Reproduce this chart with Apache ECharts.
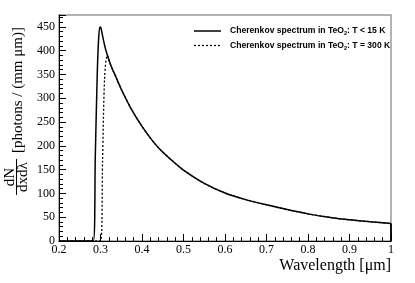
<!DOCTYPE html>
<html>
<head>
<meta charset="utf-8">
<script src="https://cdn.jsdelivr.net/npm/echarts@6/dist/echarts.min.js"></script>
<style>html,body{margin:0;padding:0;background:#fff}#c{width:415px;height:283px}</style>
</head>
<body>
<div id="c"></div>
<script>
// Wavelength [μm] and dN/dxdλ values
const lambdaCold = [0.20, 0.2827, 0.2875, 0.2923, 0.2955, 0.2985, 0.301, 0.305, 0.310, 0.316, 0.325, 0.338, 0.35, 0.375, 0.40, 0.425, 0.443, 0.475, 0.50, 0.55, 0.60, 0.65, 0.70, 0.75, 0.80, 0.85, 0.90, 0.95, 1.00];
const valuesCold = [0, 0, 180, 355, 425, 450, 448, 431, 411, 392, 369, 343, 319, 276, 241, 211, 193, 167, 149, 121, 101, 87, 76, 66, 57, 50, 44.5, 40.5, 37];
const lambdaWarm = [0.20, 0.3003, 0.305, 0.310, 0.3165, 0.325, 0.338, 0.35, 0.375, 0.40, 0.425, 0.443, 0.475, 0.50, 0.55, 0.60, 0.65, 0.70, 0.75, 0.80, 0.85, 0.90, 0.95, 1.00];
const valuesWarm = [0, 0, 170, 345, 390, 369, 343, 319, 276, 241, 211, 193, 167, 149, 121, 101, 87, 76, 66, 57, 50, 44.5, 40.5, 37];
const legendParts = [['Cherenkov spectrum in TeO', '2', ': T < 15 K'], ['Cherenkov spectrum in TeO', '2', ': T = 300 K']];

const zip = (a, b) => a.map((x, i) => [x, b[i]]);
const lastX = lambdaCold[lambdaCold.length - 1];
const lastY = valuesCold[valuesCold.length - 1];
const chart = echarts.init(document.getElementById('c'), null, {renderer: 'canvas'});
const serif = 'Liberation Serif';
const legendRich = {
  a: {fontFamily: 'Liberation Sans', fontWeight: 'bold', fontSize: 8.6, fill: '#000'},
  s: {fontFamily: 'Liberation Sans', fontWeight: 'bold', fontSize: 5.5, fill: '#000', padding: [5, 0, 0, 0]}
};
const legendText = p => '{a|' + p[0] + '}{s|' + p[1] + '}{a|' + p[2] + '}';
chart.setOption({
  animation: false,
  grid: {left: 59, right: 24, top: 15, bottom: 42, show: true, borderColor: '#9a9a9a', borderWidth: 1.5, backgroundColor: 'transparent'},
  xAxis: {
    type: 'value', min: 0.2, max: 1, interval: 0.1,
    axisLine: {show: true, onZero: false, lineStyle: {color: '#000', width: 1}},
    axisTick: {show: true, inside: true, length: 7, lineStyle: {color: '#000'}},
    minorTick: {show: true, splitNumber: 5, length: 4, lineStyle: {color: '#000'}},
    splitLine: {show: false},
    axisLabel: {margin: 3, fontFamily: serif, fontSize: 12, color: '#000', formatter: v => String(+(+v).toFixed(1))}
  },
  yAxis: {
    type: 'value', min: 0, max: 475, interval: 50,
    axisLine: {show: true, onZero: false, lineStyle: {color: '#000', width: 1}},
    axisTick: {show: true, inside: true, length: 7, lineStyle: {color: '#000'}},
    minorTick: {show: true, splitNumber: 5, length: 4, lineStyle: {color: '#000'}},
    splitLine: {show: false},
    axisLabel: {margin: 4, fontFamily: serif, fontSize: 12, color: '#000', showMaxLabel: false}
  },
  series: [
    {name: 'cold', type: 'line', data: zip(lambdaCold, valuesCold), symbol: 'none', smooth: 0.3,
     lineStyle: {color: '#000', width: 1.5},
     markLine: {silent: true, symbol: 'none', label: {show: false}, lineStyle: {color: '#000', width: 1.8, type: 'solid'},
       data: [[{coord: [lastX, 0]}, {coord: [lastX, lastY]}]]}},
    {name: 'warm', type: 'line', data: zip(lambdaWarm, valuesWarm), symbol: 'none', smooth: 0.3,
     lineStyle: {color: '#000', width: 1.3, type: [2, 2]}}
  ],
  graphic: [
    {type: 'line', shape: {x1: 194, y1: 31, x2: 221, y2: 31}, style: {stroke: '#000', lineWidth: 1.5}},
    {type: 'text', x: 230, y: 31, style: {text: legendText(legendParts[0]), rich: legendRich, textVerticalAlign: 'middle'}},
    {type: 'line', shape: {x1: 194, y1: 45.5, x2: 221, y2: 45.5}, style: {stroke: '#000', lineWidth: 1.3, lineDash: [2, 2]}},
    {type: 'text', x: 230, y: 45.5, style: {text: legendText(legendParts[1]), rich: legendRich, textVerticalAlign: 'middle'}},
    {type: 'text', right: 24, top: 258, style: {text: 'Wavelength [μm]', fontFamily: serif, fontSize: 16, fill: '#000', textAlign: 'right'}},
    {type: 'group', x: 0, y: 241, rotation: Math.PI / 2, children: [
      {type: 'text', x: 64, y: 10, style: {text: 'dN', fontFamily: serif, fontSize: 15, fill: '#000', textAlign: 'center', textVerticalAlign: 'middle'}},
      {type: 'line', shape: {x1: 46, y1: 16.5, x2: 82, y2: 16.5}, style: {stroke: '#000', lineWidth: 1}},
      {type: 'text', x: 64, y: 23.5, style: {text: 'dxdλ', fontFamily: serif, fontSize: 15, fill: '#000', textAlign: 'center', textVerticalAlign: 'middle'}},
      {type: 'text', x: 88, y: 18, style: {text: '[photons / (mm μm)]', fontFamily: serif, fontSize: 15, fill: '#000', textAlign: 'left', textVerticalAlign: 'middle'}}
    ]}
  ]
});
</script>
</body>
</html>
